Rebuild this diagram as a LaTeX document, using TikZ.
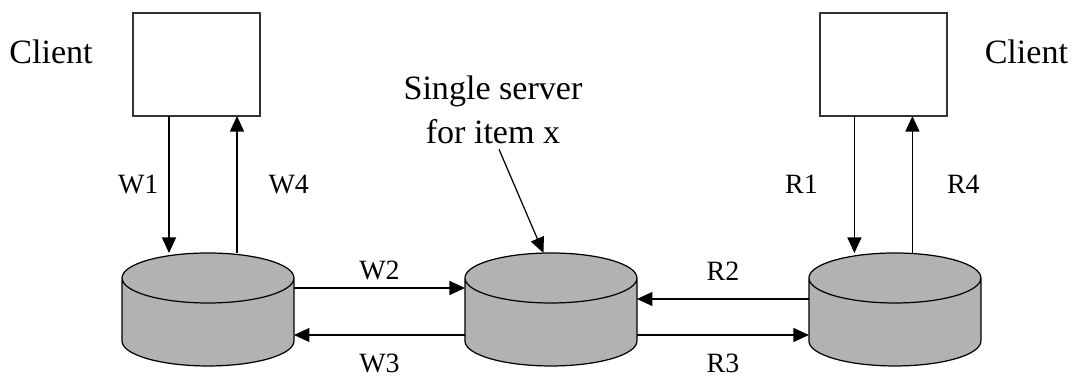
\documentclass[tikz,border=0pt]{standalone}
\usepackage{fontspec}
\setmainfont{Liberation Serif}
\usetikzlibrary{positioning, arrows.meta, shapes.geometric, calc}
\definecolor{dbgray}{gray}{0.7}

\begin{document}
\begin{tikzpicture}[
        x=0.02cm, y=-0.02cm,
        client/.style={draw=black!80, line width=0.9pt, rectangle, minimum width=2.54cm, minimum height=2.06cm, inner sep=0pt, outer sep=0pt},
        db/.style={draw, line width=0.7pt, fill=dbgray, cylinder, shape border rotate=90, aspect=1, minimum width=3.44cm, minimum height=2.26cm, inner sep=0.5cm, outer sep=0pt},
        big/.style={font=\fontsize{19.4}{25}\selectfont, inner sep=0pt},
        lbl/.style={font=\fontsize{15.9}{19}\selectfont, inner sep=0pt},
        arrow/.style={-{Triangle[length=0.31cm, width=0.28cm]}, line width=0.7pt}
    ]
    \useasboundingbox (0,0) rectangle (1072,377);

    \node[db, anchor=north] (dbL) at (208,253) {};
    \node[db, right=3.42cm of dbL] (dbM) {};
    \node[db, right=3.44cm of dbM] (dbR) {};

    \node[client, above=2.74cm of dbL, xshift=-0.23cm] (cliL) {};
    \node[client, above=2.74cm of dbR, xshift=-0.23cm] (cliR) {};

    \node[big, left=0.8cm of cliL, yshift=0.25cm] (nameL) {Client};
    \node[big, right=0.75cm of cliR, yshift=0.25cm] (nameR) {Client};

    \node[big, align=center] (note) at (493,110) {Single server\\for item x};

    \draw[arrow] ($(cliL.south)+(-27.5,0)$) -- ($(cliL.south |- dbL.north)+(-27.5,0)$)
        node[lbl, midway, left=0.2cm] (lW1) {W1};
    \draw[arrow] ($(cliL.south |- dbL.north)+(40.5,0)$) -- ($(cliL.south)+(40.5,0)$)
        node[lbl, midway, right=0.62cm] (lW4) {W4};
    \draw[arrow] ($(cliR.south)+(-29,0)$) -- ($(cliR.south |- dbR.north)+(-29,0)$)
        node[lbl, midway, left=0.72cm] (lR1) {R1};
    \draw[arrow] ($(cliR.south |- dbR.north)+(29,0)$) -- ($(cliR.south)+(29,0)$)
        node[lbl, midway, right=0.68cm] (lR4) {R4};

    \draw[arrow] ($(dbL.north -| dbL.east)+(0,35)$) -- ($(dbL.north -| dbM.west)+(0,35)$)
        node[lbl, midway, above=0.14cm] (lW2) {W2};
    \draw[arrow] ($(dbM.north -| dbM.west)+(0,82)$) -- ($(dbM.north -| dbL.east)+(0,82)$)
        node[lbl, midway, below=0.36cm] (lW3) {W3};
    \draw[arrow] ($(dbR.north -| dbR.west)+(0,46)$) -- ($(dbR.north -| dbM.east)+(0,46)$)
        node[lbl, midway, above=0.36cm] (lR2) {R2};
    \draw[arrow] ($(dbM.north -| dbM.east)+(0,82)$) -- ($(dbM.north -| dbR.west)+(0,82)$)
        node[lbl, midway, below=0.36cm] (lR3) {R3};

    \draw[arrow] ($(note.south)+(6,5)$) -- ($(dbM.north)+(-7.5,0)$);
\end{tikzpicture}
\end{document}
